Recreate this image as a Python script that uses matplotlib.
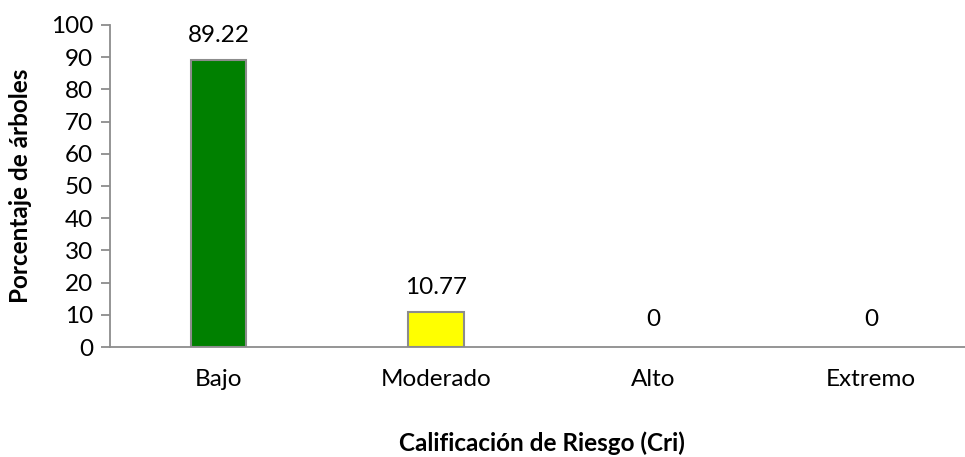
import matplotlib.pyplot as plt

categorias = ["Bajo", "Moderado", "Alto", "Extremo"]
porcentajes = [89.22, 10.77, 0, 0]
colores = ["#008000", "#FFFF00", "#FFFF00", "#FFFF00"]
etiquetas = ["89.22", "10.77", "0", "0"]
yticks = list(range(0, 101, 10))

plt.rcParams['font.family'] = ['Lato', 'DejaVu Sans']
gris = "#8c8c8c"
fs = 17.5

fig = plt.figure(figsize=(9.65, 4.57), dpi=100)
ax = fig.add_axes([0.1137, 0.2407, 0.9016, 0.7046])

x = list(range(len(categorias)))
# zero-height bars get no outline, so they do not show on the axis
bordes = [1.5 if v > 0 else 0 for v in porcentajes]
barras = ax.bar(x, porcentajes, width=0.253, color=colores,
                edgecolor=gris, linewidth=bordes, zorder=3)
for b, v, t in zip(barras, porcentajes, etiquetas):
    ax.annotate(t, (b.get_x() + b.get_width() / 2, v),
                textcoords="offset points", xytext=(0, 10 if v > 0 else 12),
                ha='center', va='bottom', fontsize=fs)

ax.set_xlim(-0.5, 3.5)
ax.set_ylim(0, 100)
ax.set_yticks(yticks)
ax.set_xticks(x)
ax.set_xticklabels(categorias)

for s in ['top', 'right']:
    ax.spines[s].set_visible(False)
for s in ['left', 'bottom']:
    ax.spines[s].set_color(gris)
    ax.spines[s].set_linewidth(1.3)
ax.spines['bottom'].set_zorder(4)

ax.tick_params(axis='y', length=6.5, width=1.3, color=gris, pad=5.5,
               labelsize=fs)
ax.tick_params(axis='x', length=0, pad=16, labelsize=fs)

ax.set_ylabel("Porcentaje de árboles", fontsize=fs, fontweight='bold',
              va='center')
ax.yaxis.set_label_coords(-0.102, 0.5)
ax.set_xlabel("Calificación de Riesgo (Cri)", fontsize=fs, fontweight='bold',
              va='center')
ax.xaxis.set_label_coords(0.497, -0.298)

fig.savefig("out.png", dpi=100)
